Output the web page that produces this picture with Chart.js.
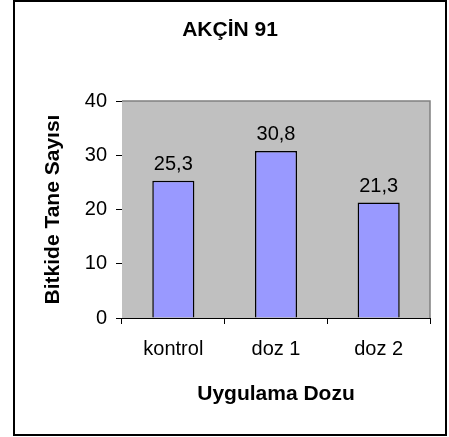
<!DOCTYPE html>
<html lang="tr">
<head>
<meta charset="UTF-8">
<title>AKÇİN 91</title>
<script src="https://cdn.jsdelivr.net/npm/chart.js"></script>
<style>
    body { margin: 0; background: #fff; }
    #wrap { width: 449px; height: 437px; position: relative; }
</style>
</head>
<body>
<div id="wrap"><canvas id="chart" width="449" height="437"></canvas></div>
<script>
    const categories = ['kontrol', 'doz 1', 'doz 2'];
    const taneSayisi = [25.3, 30.8, 21.3];
    const yTicks = [0, 10, 20, 30, 40];

    const fontFamily = '"Liberation Sans", Arial, sans-serif';

    // gray plot background, plot frame, outer box, title, bar values
    const decor = {
        id: 'decor',
        beforeDatasetsDraw(chart) {
            const {ctx, chartArea: a} = chart;
            ctx.save();
            ctx.fillStyle = '#c0c0c0';
            ctx.fillRect(a.left, a.top, a.right - a.left, a.bottom - a.top);
            ctx.strokeStyle = '#808080';
            ctx.lineWidth = 1.5;
            ctx.beginPath();
            ctx.moveTo(a.left, a.top);
            ctx.lineTo(a.right, a.top);
            ctx.lineTo(a.right, a.bottom);
            ctx.stroke();
            ctx.restore();
        },
        afterDraw(chart) {
            const {ctx} = chart;
            ctx.save();
            ctx.strokeStyle = '#000';
            ctx.lineWidth = 2;
            ctx.strokeRect(14, 1, 432, 434);

            ctx.fillStyle = '#000';
            ctx.font = 'bold 21px ' + fontFamily;
            ctx.textAlign = 'center';
            ctx.textBaseline = 'middle';
            ctx.fillText('AKÇİN 91', 230, 30);

            ctx.font = '20px ' + fontFamily;
            const meta = chart.getDatasetMeta(0);
            meta.data.forEach((bar, i) => {
                const txt = String(taneSayisi[i]).replace('.', ',');
                ctx.fillText(txt, bar.x, bar.y - 16);
            });
            ctx.restore();
        }
    };

    new Chart(document.getElementById('chart'), {
        type: 'bar',
        data: {
            labels: categories,
            datasets: [{
                data: taneSayisi,
                backgroundColor: '#9999ff',
                borderColor: '#000',
                borderWidth: 1.5,
                barPercentage: 0.41,
                categoryPercentage: 1
            }]
        },
        options: {
            responsive: false,
            animation: false,
            layout: { padding: { top: 101, right: 19, left: 0, bottom: 0 } },
            plugins: {
                legend: { display: false },
                title: { display: false },
                tooltip: { enabled: false }
            },
            scales: {
                x: {
                    afterFit(s) { s.height = 437 - 318; },
                    grid: {
                        drawOnChartArea: false,
                        drawTicks: true,
                        tickLength: 6,
                        color: '#000',
                        offset: true
                    },
                    border: { color: '#000', width: 1 },
                    ticks: {
                        color: '#000',
                        padding: 13,
                        font: { family: fontFamily, size: 20 }
                    },
                    title: {
                        display: true,
                        text: 'Uygulama Dozu',
                        color: '#000',
                        font: { family: fontFamily, size: 21, weight: 'bold' },
                        padding: { top: 0, bottom: 30 }
                    }
                },
                y: {
                    min: yTicks[0],
                    max: yTicks[yTicks.length - 1],
                    afterFit(s) { s.width = 122; },
                    afterBuildTicks(s) { s.ticks = yTicks.map(v => ({value: v})); },
                    grid: {
                        drawOnChartArea: false,
                        drawTicks: true,
                        tickLength: 6,
                        color: '#000'
                    },
                    border: { color: '#000', width: 1 },
                    ticks: {
                        color: '#000',
                        padding: 9,
                        font: { family: fontFamily, size: 20 }
                    },
                    title: {
                        display: true,
                        text: 'Bitkide Tane Sayısı',
                        color: '#000',
                        font: { family: fontFamily, size: 21, weight: 'bold' },
                        padding: { top: 41, bottom: 0 }
                    }
                }
            }
        },
        plugins: [decor]
    });
</script>
</body>
</html>
